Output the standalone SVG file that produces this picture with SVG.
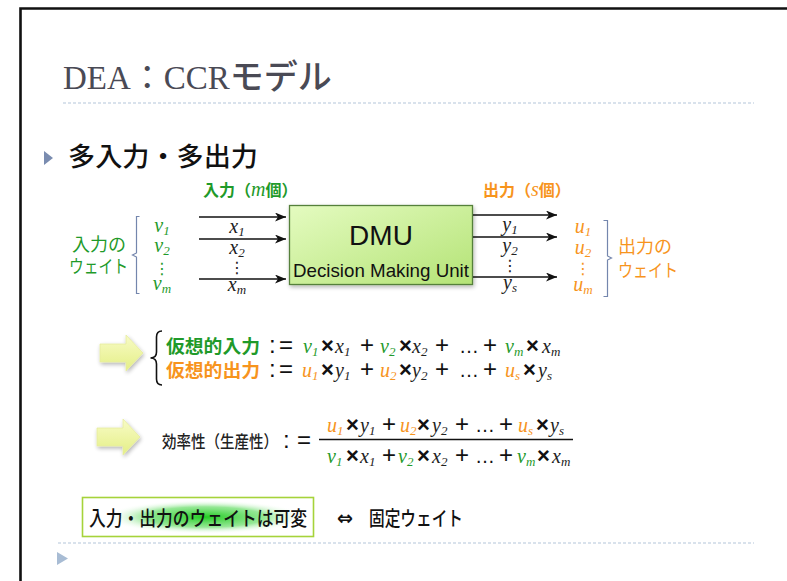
<svg xmlns="http://www.w3.org/2000/svg" width="787" height="581" viewBox="0 0 787 581">
<style>
.jp{font-family:"Noto Sans CJK JP","Noto Sans",sans-serif}
.mi{font-family:"Liberation Serif",serif;font-style:italic;font-size:20px}
.vd{font-family:"DejaVu Sans",sans-serif;font-style:normal;font-size:16px}
.op{font-family:"Liberation Sans",sans-serif;font-size:24px;fill:#111}
.tm{font-family:"Liberation Sans",sans-serif;font-size:22px;fill:#111;font-weight:bold}
.el{font-family:"Liberation Sans",sans-serif;font-size:20px;fill:#111}
.g{fill:#1f9a2a}
.o{fill:#f7941d}
.k{fill:#222}
.conn{stroke:#111;stroke-width:1.5;fill:none}
.brk{stroke:#7486ad;stroke-width:1.2;fill:none}
.dot{stroke:#b4c6da;stroke-width:1.2;stroke-dasharray:3 2}
</style>
<defs>
<marker id="ah" markerWidth="12" markerHeight="10" refX="11" refY="4.5" orient="auto" markerUnits="userSpaceOnUse">
<path d="M0,0 L11,4.5 L0,9 L3,4.5 Z" fill="#111"/>
</marker>
<linearGradient id="dmu" x1="0" y1="0" x2="1" y2="1">
<stop offset="0" stop-color="#e4fbc0"/>
<stop offset="1" stop-color="#b4e376"/>
</linearGradient>
<linearGradient id="yel" x1="0" y1="0" x2="0" y2="1">
<stop offset="0" stop-color="#f8fbc6"/>
<stop offset="1" stop-color="#e4ef86"/>
</linearGradient>
<radialGradient id="glow" cx="0.5" cy="0.5" r="0.5">
<stop offset="0" stop-color="#22cc22" stop-opacity="1"/>
<stop offset="0.6" stop-color="#50d850" stop-opacity="0.6"/>
<stop offset="1" stop-color="#ffffff" stop-opacity="0"/>
</radialGradient>
<filter id="sh" x="-30%" y="-30%" width="160%" height="160%">
<feGaussianBlur in="SourceAlpha" stdDeviation="2"/>
<feOffset dx="1" dy="2" result="b"/>
<feComponentTransfer><feFuncA type="linear" slope="0.3"/></feComponentTransfer>
<feMerge><feMergeNode/><feMergeNode in="SourceGraphic"/></feMerge>
</filter>
</defs>

<rect width="787" height="581" fill="#fff"/>
<!-- frame -->
<path d="M20.5,581 L20.5,8.5 L787,8.5" stroke="#111" stroke-width="2.6" fill="none"/>

<g id="title">
<text x="63" y="89" font-family="'Liberation Serif','Noto Sans CJK JP',serif" font-size="33" fill="#4a4a55">DEA：CCR<tspan font-family="'Noto Sans CJK JP',sans-serif" font-size="34" font-weight="500">モデル</tspan></text>
<line class="dot" x1="63" y1="103" x2="754" y2="103"/>
</g>

<g id="heading">
<path d="M44,151 L53,158 L44,165 Z" fill="#7a8cb0"/>
<text class="jp" x="68" y="166" font-size="26" font-weight="500" fill="#111" textLength="190" lengthAdjust="spacingAndGlyphs">多入力・多出力</text>
</g>

<g id="input-label">
<text class="jp g" x="203" y="196" font-size="16" font-weight="bold">入力（<tspan class="mi" font-size="17" font-weight="normal">m</tspan>個）</text>
</g>
<g id="output-label">
<text class="jp o" x="483" y="196" font-size="16" font-weight="bold">出力（<tspan class="mi" font-size="17" font-weight="normal">s</tspan>個）</text>
</g>

<g id="dmu">
<rect x="289.5" y="205.5" width="183" height="79" fill="url(#dmu)" stroke="#55803a" stroke-width="1.3" filter="url(#sh)"/>
<text x="381" y="245" text-anchor="middle" font-family="'Liberation Sans',sans-serif" font-size="28" fill="#111">DMU</text>
<text x="381" y="277" text-anchor="middle" font-family="'Liberation Sans',sans-serif" font-size="19" fill="#111" textLength="176" lengthAdjust="spacingAndGlyphs">Decision Making Unit</text>
</g>

<g id="connectors">
<line class="conn" x1="199" y1="217" x2="286" y2="217" marker-end="url(#ah)"/>
<line class="conn" x1="199" y1="239" x2="286" y2="239" marker-end="url(#ah)"/>
<line class="conn" x1="199" y1="279" x2="286" y2="279" marker-end="url(#ah)"/>
<line class="conn" x1="473" y1="215" x2="557" y2="215" marker-end="url(#ah)"/>
<line class="conn" x1="473" y1="237" x2="557" y2="237" marker-end="url(#ah)"/>
<line class="conn" x1="473" y1="277" x2="557" y2="277" marker-end="url(#ah)"/>
</g>

<g id="input-vars">
<text class="mi k" x="237" y="233" text-anchor="middle">x<tspan font-size="13" dy="3">1</tspan></text>
<text class="mi k" x="237" y="254" text-anchor="middle">x<tspan font-size="13" dy="3">2</tspan></text>
<text class="vd k" x="237" y="273" text-anchor="middle">⋮</text>
<text class="mi k" x="237" y="291" text-anchor="middle">x<tspan font-size="13" dy="3">m</tspan></text>
</g>
<g id="output-vars">
<text class="mi k" x="510" y="231" text-anchor="middle">y<tspan font-size="13" dy="3">1</tspan></text>
<text class="mi k" x="510" y="252" text-anchor="middle">y<tspan font-size="13" dy="3">2</tspan></text>
<text class="vd k" x="510" y="271" text-anchor="middle">⋮</text>
<text class="mi k" x="510" y="289" text-anchor="middle">y<tspan font-size="13" dy="3">s</tspan></text>
</g>

<g id="input-weights">
<path class="brk" d="M139.5,216.5 L136.5,216.5 L136.5,253 L132.5,255 L136.5,257 L136.5,293.5 L139.5,293.5"/>
<text class="mi g" x="162" y="232" text-anchor="middle">v<tspan font-size="13" dy="3">1</tspan></text>
<text class="mi g" x="162" y="252" text-anchor="middle">v<tspan font-size="13" dy="3">2</tspan></text>
<text class="vd g" x="162" y="274" text-anchor="middle">⋮</text>
<text class="mi g" x="162" y="290" text-anchor="middle">v<tspan font-size="13" dy="3">m</tspan></text>
<text class="jp g" x="72" y="251" font-size="18">入力の</text>
<text class="jp g" x="69" y="273" font-size="18" textLength="59" lengthAdjust="spacingAndGlyphs">ウェイト</text>
</g>

<g id="output-weights">
<path class="brk" d="M603.5,220.5 L607.5,220.5 L607.5,256 L611.5,258 L607.5,260 L607.5,296.5 L603.5,296.5"/>
<text class="mi o" x="583" y="233" text-anchor="middle">u<tspan font-size="13" dy="3">1</tspan></text>
<text class="mi o" x="583" y="254" text-anchor="middle">u<tspan font-size="13" dy="3">2</tspan></text>
<text class="vd o" x="583" y="274" text-anchor="middle">⋮</text>
<text class="mi o" x="583" y="291" text-anchor="middle">u<tspan font-size="13" dy="3">m</tspan></text>
<text class="jp o" x="618" y="253" font-size="18">出力の</text>
<text class="jp o" x="618" y="277" font-size="18" textLength="60" lengthAdjust="spacingAndGlyphs">ウェイト</text>
</g>

<g id="virtual">
<path d="M100,344 L126,344 L126,335 L143,353 L126,371 L126,362 L100,362 Z" fill="url(#yel)" stroke="#e6eca0" stroke-width="0.8" filter="url(#sh)"/>
<path d="M162,331 Q156.5,331 156.5,337 L156.5,352 Q156.5,358 150.5,358 Q156.5,358 156.5,364 L156.5,379 Q156.5,385 162,385" stroke="#111" stroke-width="1.6" fill="none"/>
<text class="jp g" x="166" y="353" font-size="18" font-weight="bold" textLength="94" lengthAdjust="spacingAndGlyphs">仮想的入力</text>
<text class="jp o" x="166" y="377" font-size="18" font-weight="bold" textLength="94" lengthAdjust="spacingAndGlyphs">仮想的出力</text>
<text class="op" x="269" y="353" textLength="24">:=</text>
<text class="mi g" x="303" y="353">v<tspan font-size="13" dy="3">1</tspan></text>
<text class="tm" x="321" y="353">×</text>
<text class="mi k" x="335" y="353">x<tspan font-size="13" dy="3">1</tspan></text>
<text class="op" x="360" y="353">+</text>
<text class="mi g" x="380" y="353">v<tspan font-size="13" dy="3">2</tspan></text>
<text class="tm" x="399" y="353">×</text>
<text class="mi k" x="412" y="353">x<tspan font-size="13" dy="3">2</tspan></text>
<text class="op" x="435" y="353">+</text>
<text class="el" x="459" y="353">…</text>
<text class="op" x="483" y="353">+</text>
<text class="mi g" x="505" y="353">v<tspan font-size="13" dy="3">m</tspan></text>
<text class="tm" x="526" y="353">×</text>
<text class="mi k" x="542" y="353">x<tspan font-size="13" dy="3">m</tspan></text>

<text class="op" x="269" y="377" textLength="24">:=</text>
<text class="mi o" x="302" y="377">u<tspan font-size="13" dy="3">1</tspan></text>
<text class="tm" x="321" y="377">×</text>
<text class="mi k" x="335" y="377">y<tspan font-size="13" dy="3">1</tspan></text>
<text class="op" x="360" y="377">+</text>
<text class="mi o" x="380" y="377">u<tspan font-size="13" dy="3">2</tspan></text>
<text class="tm" x="399" y="377">×</text>
<text class="mi k" x="412" y="377">y<tspan font-size="13" dy="3">2</tspan></text>
<text class="op" x="435" y="377">+</text>
<text class="el" x="459" y="377">…</text>
<text class="op" x="483" y="377">+</text>
<text class="mi o" x="505" y="377">u<tspan font-size="13" dy="3">s</tspan></text>
<text class="tm" x="523" y="377">×</text>
<text class="mi k" x="538" y="377">y<tspan font-size="13" dy="3">s</tspan></text>
</g>

<g id="efficiency">
<path d="M97,428 L123,428 L123,419 L140,437 L123,455 L123,446 L97,446 Z" fill="url(#yel)" stroke="#e6eca0" stroke-width="0.8" filter="url(#sh)"/>
<text class="jp k" x="162" y="448" font-size="17" font-weight="500" textLength="116" lengthAdjust="spacingAndGlyphs">効率性（生産性）</text>
<text class="op" x="283" y="448" textLength="28">:=</text>
<line x1="319" y1="439.5" x2="573" y2="439.5" stroke="#111" stroke-width="1.3"/>
<text class="mi o" x="327" y="432">u<tspan font-size="13" dy="3">1</tspan></text>
<text class="tm" x="346" y="432">×</text>
<text class="mi k" x="360" y="432">y<tspan font-size="13" dy="3">1</tspan></text>
<text class="op" x="382" y="432">+</text>
<text class="mi o" x="400" y="432">u<tspan font-size="13" dy="3">2</tspan></text>
<text class="tm" x="417" y="432">×</text>
<text class="mi k" x="432" y="432">y<tspan font-size="13" dy="3">2</tspan></text>
<text class="op" x="455" y="432">+</text>
<text class="el" x="475" y="432">…</text>
<text class="op" x="499" y="432">+</text>
<text class="mi o" x="518" y="432">u<tspan font-size="13" dy="3">s</tspan></text>
<text class="tm" x="536" y="432">×</text>
<text class="mi k" x="550" y="432">y<tspan font-size="13" dy="3">s</tspan></text>

<text class="mi g" x="327" y="463">v<tspan font-size="13" dy="3">1</tspan></text>
<text class="tm" x="346" y="463">×</text>
<text class="mi k" x="360" y="463">x<tspan font-size="13" dy="3">1</tspan></text>
<text class="op" x="382" y="463">+</text>
<text class="mi g" x="398" y="463">v<tspan font-size="13" dy="3">2</tspan></text>
<text class="tm" x="417" y="463">×</text>
<text class="mi k" x="432" y="463">x<tspan font-size="13" dy="3">2</tspan></text>
<text class="op" x="455" y="463">+</text>
<text class="el" x="475" y="463">…</text>
<text class="op" x="499" y="463">+</text>
<text class="mi g" x="517" y="463">v<tspan font-size="13" dy="3">m</tspan></text>
<text class="tm" x="537" y="463">×</text>
<text class="mi k" x="552" y="463">x<tspan font-size="13" dy="3">m</tspan></text>
</g>

<g id="variable-box">
<rect x="82.5" y="497.5" width="231" height="39" fill="#fff" stroke="#a6d33a" stroke-width="1.6"/>
<ellipse cx="205" cy="517" rx="100" ry="17" fill="url(#glow)"/>
<text class="jp" x="89" y="526" font-size="20" font-weight="500" fill="#111" textLength="218" lengthAdjust="spacingAndGlyphs">入力・出力のウェイトは可変</text>
</g>
<g id="fixed">
<text x="337" y="525" font-family="'DejaVu Sans',sans-serif" font-size="20" font-weight="bold" fill="#111" textLength="16" lengthAdjust="spacingAndGlyphs">⇔</text>
<text class="jp" x="369" y="526" font-size="20" font-weight="500" fill="#111" textLength="94" lengthAdjust="spacingAndGlyphs">固定ウェイト</text>
</g>

<g id="footer">
<line class="dot" x1="58" y1="543" x2="754" y2="543"/>
<path d="M57,552 L68,558.5 L57,565 Z" fill="#a8bcd4"/>
</g>
</svg>
